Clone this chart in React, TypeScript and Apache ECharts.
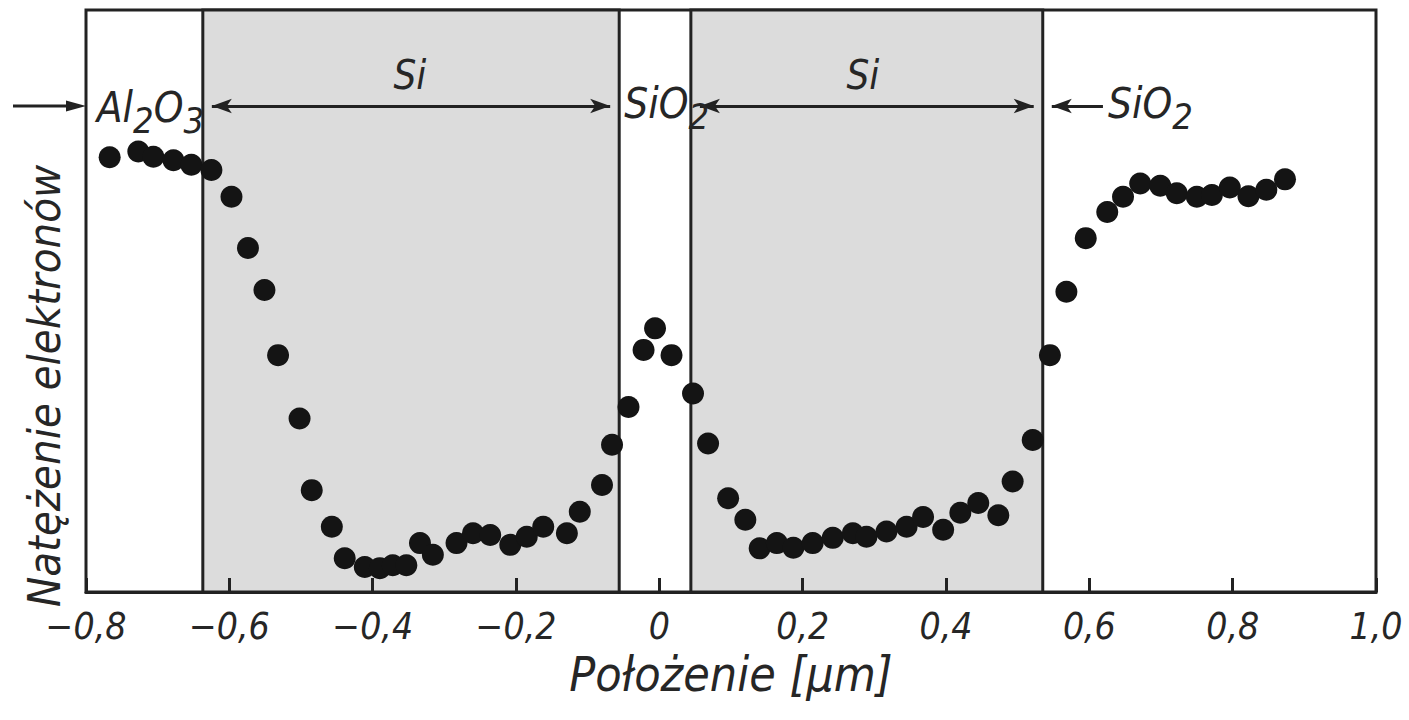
import React, { useEffect, useRef } from 'react';
import * as echarts from 'echarts';

// ---- data ----
const X_TICK_LABELS = ['−0,8', '−0,6', '−0,4', '−0,2', '0', '0,2', '0,4', '0,6', '0,8', '1,0'];
const X_MIN = -0.8;
const X_MAX = 1.0;
const X_STEP = 0.2;

const POSITIONS = [
  -0.767, -0.727, -0.706, -0.678, -0.653, -0.625, -0.597, -0.574, -0.551, -0.532,
  -0.502, -0.485, -0.457, -0.439, -0.411, -0.390, -0.372, -0.353, -0.334, -0.316,
  -0.283, -0.260, -0.236, -0.208, -0.185, -0.162, -0.129, -0.111, -0.080, -0.066,
  -0.043, -0.022, -0.006, 0.017, 0.047, 0.068, 0.096, 0.120, 0.140, 0.164,
  0.187, 0.214, 0.242, 0.270, 0.289, 0.317, 0.345, 0.368, 0.396, 0.420,
  0.445, 0.473, 0.493, 0.521, 0.545, 0.568, 0.595, 0.625, 0.647, 0.671,
  0.699, 0.722, 0.750, 0.771, 0.796, 0.822, 0.847, 0.873,
];
const INTENSITY = [
  74.7, 75.7, 74.8, 74.2, 73.4, 72.5, 67.9, 59.1, 51.9, 40.7,
  29.8, 17.5, 11.2, 5.8, 4.3, 4.1, 4.6, 4.6, 8.4, 6.4,
  8.4, 10.1, 9.8, 8.1, 9.5, 11.2, 10.1, 13.8, 18.4, 25.3,
  31.8, 41.6, 45.3, 40.7, 34.1, 25.5, 16.1, 12.4, 7.5, 8.4,
  7.6, 8.4, 9.3, 10.1, 9.5, 10.4, 11.2, 12.9, 10.7, 13.6,
  15.3, 13.2, 19.0, 26.1, 40.7, 51.6, 60.8, 65.3, 67.9, 70.2,
  69.8, 68.5, 67.9, 68.2, 69.5, 68.0, 69.1, 70.9,
];

// layer boundaries (µm) of the two Si regions
const SI_REGIONS: [number, number][] = [
  [-0.637, -0.056],
  [0.044, 0.535],
];

const FONT = "'DejaVu Sans Condensed', 'Liberation Sans Narrow', 'DejaVu Sans', sans-serif";
const INK = '#262626';
const ARROW_Y = 83.5;
const ARROW_INSET = 0.0126;

export default function App() {
  const ref = useRef<HTMLDivElement>(null);

  useEffect(() => {
    const chart = echarts.init(ref.current!, null, { renderer: 'svg' });
    const data = POSITIONS.map((x, i) => [x, INTENSITY[i]]);

    chart.setOption({
      animation: false,
      backgroundColor: '#ffffff',
      grid: {
        left: 86,
        right: 33,
        top: 10,
        bottom: 128,
        show: true,
        borderColor: '#222',
        borderWidth: 3,
        backgroundColor: 'transparent',
      },
      xAxis: {
        type: 'value',
        min: X_MIN,
        max: X_MAX,
        interval: X_STEP,
        z: 5,
        name: 'Położenie [μm]',
        nameLocation: 'middle',
        nameGap: 54,
        nameTextStyle: {
          fontFamily: FONT,
          fontStyle: 'italic',
          fontSize: 48,
          color: INK,
        },
        axisLine: { show: true, lineStyle: { color: '#222', width: 3 } },
        axisTick: { show: true, inside: true, length: 14, lineStyle: { color: '#222', width: 3 } },
        splitLine: { show: false },
        axisLabel: {
          margin: 16,
          fontFamily: FONT,
          fontStyle: 'italic',
          fontSize: 37,
          color: INK,
          formatter: (v: number) => X_TICK_LABELS[Math.round((v - X_MIN) / X_STEP)] ?? '',
        },
      },
      yAxis: {
        type: 'value',
        min: 0,
        max: 100,
        show: false,
        splitLine: { show: false },
      },
      series: [
        {
          type: 'scatter',
          data,
          symbol: 'circle',
          symbolSize: 22,
          itemStyle: { color: '#141414', opacity: 1 },
          z: 3,
          markArea: {
            silent: true,
            z: 1,
            itemStyle: { color: '#dcdcdc', borderColor: '#222', borderWidth: 3 },
            data: SI_REGIONS.map(([a, b]) => [{ xAxis: a }, { xAxis: b }]),
          },
          markLine: {
            silent: true,
            symbol: ['arrow', 'arrow'],
            symbolSize: [11, 20],
            lineStyle: { color: '#222', width: 3, type: 'solid' },
            label: { show: false },
            emphasis: { disabled: true },
            data: [
              ...SI_REGIONS.map(([a, b]) => [
                { coord: [a + ARROW_INSET, ARROW_Y] },
                { coord: [b - ARROW_INSET, ARROW_Y] },
              ]),
              [
                { coord: [0.619, ARROW_Y], symbol: 'none' },
                { coord: [SI_REGIONS[1][1] + ARROW_INSET, ARROW_Y], symbol: 'arrow' },
              ],
            ],
          },
        },
      ],
    });

    const px = (x: number, y: number) => chart.convertToPixel({ gridIndex: 0 }, [x, y]) as number[];
    const main = { fontSize: 42, fontFamily: FONT, fontStyle: 'italic', fill: INK, lineHeight: 44, verticalAlign: 'top' };
    const sub = { fontSize: 36, fontFamily: FONT, fontStyle: 'italic', fill: INK, lineHeight: 38, padding: [16, 0, 0, 0], verticalAlign: 'top' };

    const siL = px(-0.348, 88.8);
    const siR = px(0.284, 88.8);
    const al = px(-0.785, 86.8);
    const sioM = px(-0.049, 87.6);
    const sioR = px(0.626, 87.6);
    const tip = px(X_MIN, ARROW_Y);

    chart.setOption({
      graphic: [
        {
          type: 'text',
          z: 100,
          x: 44,
          y: 386,
          rotation: Math.PI / 2,
          style: {
            text: 'Natężenie elektronów',
            fontFamily: FONT,
            fontStyle: 'italic',
            fontSize: 45,
            fill: INK,
            align: 'center',
            verticalAlign: 'middle',
          },
        },
        {
          type: 'text', z: 100, x: siL[0], y: siL[1],
          style: { text: 'Si', fontFamily: FONT, fontStyle: 'italic', fontSize: 40, fill: INK, align: 'center', verticalAlign: 'middle' },
        },
        {
          type: 'text', z: 100, x: siR[0], y: siR[1],
          style: { text: 'Si', fontFamily: FONT, fontStyle: 'italic', fontSize: 40, fill: INK, align: 'center', verticalAlign: 'middle' },
        },
        {
          type: 'text', z: 100, x: al[0], y: al[1],
          style: { text: '{m|Al}{s|2}{m|O}{s|3}', rich: { m: main, s: sub }, align: 'left', verticalAlign: 'top' },
        },
        {
          type: 'text', z: 100, x: sioM[0], y: sioM[1],
          style: { text: '{m|SiO}{s|2}', rich: { m: main, s: sub }, align: 'left', verticalAlign: 'top' },
        },
        {
          type: 'text', z: 100, x: sioR[0], y: sioR[1],
          style: { text: '{m|SiO}{s|2}', rich: { m: main, s: sub }, align: 'left', verticalAlign: 'top' },
        },
        {
          type: 'line', z: 100,
          shape: { x1: 13, y1: tip[1], x2: tip[0] - 10, y2: tip[1] },
          style: { stroke: '#222', lineWidth: 3 },
        },
        {
          type: 'polygon', z: 100,
          shape: { points: [[tip[0], tip[1]], [tip[0] - 20, tip[1] - 5.5], [tip[0] - 20, tip[1] + 5.5]] },
          style: { fill: '#222' },
        },
      ],
    });

    return () => chart.dispose();
  }, []);

  return (
    <div
      ref={ref}
      style={{ position: 'absolute', left: 0, top: 0, width: 1409, height: 720, background: '#fff' }}
    />
  );
}
